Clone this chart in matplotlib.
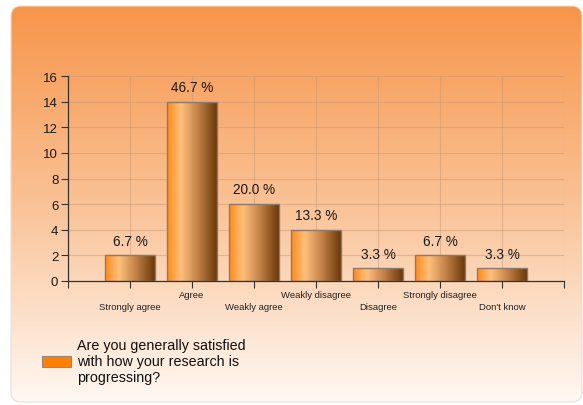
import matplotlib
matplotlib.use('Agg')
import matplotlib.pyplot as plt
import numpy as np
from matplotlib.colors import LinearSegmentedColormap
from matplotlib.patches import FancyBboxPatch, Rectangle

plt.rcParams['font.family'] = ['Liberation Sans', 'DejaVu Sans']

categories = ['Strongly agree', 'Agree', 'Weakly agree', 'Weakly disagree',
              'Disagree', 'Strongly disagree', "Don't know"]
counts = [2, 14, 6, 4, 1, 2, 1]
percents = [6.7, 46.7, 20.0, 13.3, 3.3, 6.7, 3.3]
yticks = [0, 2, 4, 6, 8, 10, 12, 14, 16]
question = 'Are you generally satisfied\nwith how your research is\nprogressing?'

W, H = 583, 406
fig = plt.figure(figsize=(W / 100, H / 100), dpi=100)
fig.patch.set_facecolor('white')

# panel background: rounded box with a vertical orange-to-cream fade
bg = fig.add_axes([0, 0, 1, 1])
bg.set_xlim(0, W)
bg.set_ylim(H, 0)
bg.axis('off')
panel_cmap = LinearSegmentedColormap.from_list(
    'panel', ['#f7954a', '#fac296', '#fff8f3'])
grad = np.linspace(0, 1, 256).reshape(-1, 1)
img = bg.imshow(grad, cmap=panel_cmap, extent=(11, 582, 403, 7),
                aspect='auto', interpolation='bicubic')
panel = FancyBboxPatch((11, 7), 571, 396,
                       boxstyle='round,pad=0,rounding_size=10',
                       facecolor='none', edgecolor='#e8e0da', lw=0.8)
bg.add_patch(panel)
img.set_clip_path(panel)

# legend swatch and text
bg.add_patch(Rectangle((42, 357), 29, 11, facecolor='#ff8000',
                       edgecolor='#8a8a8a', lw=0.8))
bg.text(77, 362, question, fontsize=10.3, color='#111111',
        va='center', ha='left', linespacing=1.2)

ax = fig.add_axes([68 / W, (H - 282) / H, 496 / W, 205 / H])
ax.set_facecolor('none')
x = np.arange(len(categories))
ax.set_xlim(-1, len(categories))
ax.set_ylim(0, 16)

bar_cmap = LinearSegmentedColormap.from_list(
    'bar', [(0, '#ff8a18'), (0.28, '#ffc07c'), (0.6, '#c7854b'),
            (1, '#6a3808')])
hgrad = np.linspace(0, 1, 256).reshape(1, -1)
bars = ax.bar(x, counts, width=0.8, facecolor='none',
              edgecolor='#8c7a6e', lw=1.0, zorder=3)
for b in bars:
    bx, bw, bh = b.get_x(), b.get_width(), b.get_height()
    im = ax.imshow(hgrad, cmap=bar_cmap, extent=(bx, bx + bw, 0, bh),
                   aspect='auto', zorder=2, interpolation='bicubic')
    im.set_clip_path(b)
ax.set_xlim(-1, len(categories))
ax.set_ylim(0, 16)

for xi, c, p in zip(x, counts, percents):
    ax.annotate(f'{p:.1f} %', (xi, c), xytext=(0, 5.5),
                textcoords='offset points', ha='center', va='bottom',
                fontsize=9.8, color='#1a1a1a')

# category names alternate between two rows under the axis
for i, name in enumerate(categories):
    dy = -18.7 if i % 2 == 0 else -10
    ax.annotate(name, (i, 0), xycoords=('data', 'axes fraction'),
                xytext=(0, dy), textcoords='offset points',
                ha='center', va='center', fontsize=6.8, color='#222222')

ax.set_xticks(np.arange(-1, len(categories) + 1))
ax.set_xticklabels([])
ax.set_yticks(yticks)
ax.tick_params(axis='y', labelsize=9.5, colors='#333333', labelcolor='#1a1a1a',
               length=5, width=0.8, direction='out', pad=2)
ax.tick_params(axis='x', length=5, width=0.8, colors='#333333',
               direction='out')
ax.grid(True, color='#c99a78', alpha=0.5, lw=0.8, zorder=0)
ax.set_axisbelow(True)
for side in ['top', 'right']:
    ax.spines[side].set_visible(False)
for side in ['left', 'bottom']:
    ax.spines[side].set_color('#333333')
    ax.spines[side].set_linewidth(0.9)

fig.savefig('out.png', dpi=100)
